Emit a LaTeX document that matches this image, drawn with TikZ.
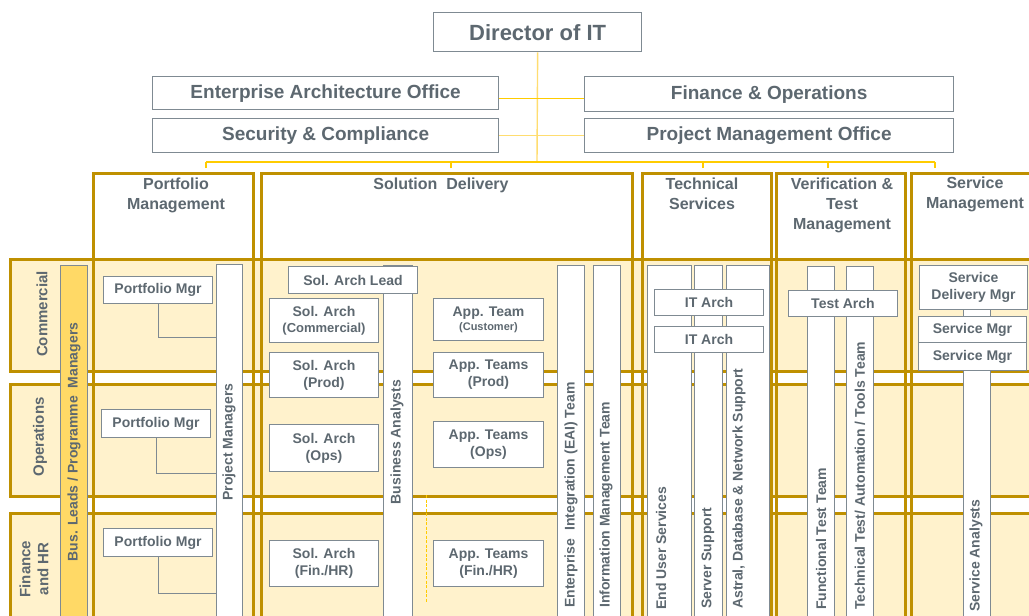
\documentclass[tikz,border=0pt]{standalone}
\usepackage{fontspec}
\setmainfont{Liberation Sans}
\usetikzlibrary{calc}
\definecolor{txt}{HTML}{5D6870}
\definecolor{gold}{HTML}{BF9000}
\definecolor{lightfill}{HTML}{FFF2CC}
\definecolor{baryel}{HTML}{FFD966}
\definecolor{bgray}{HTML}{7F8A92}
\definecolor{lnyel}{HTML}{FFCC00}
\definecolor{lnyel2}{HTML}{FFDD70}
\tikzset{
 topbox/.style={draw=bgray, line width=1.3pt, fill=white, text=txt, font=\bfseries\fontsize{19}{23}\selectfont, inner sep=0, anchor=north west},
 box/.style={draw=bgray, line width=1pt, fill=white, text=txt, font=\bfseries\fontsize{14}{17}\selectfont, inner sep=0, align=center, anchor=north west},
 bar/.style={draw=bgray, line width=1pt, fill=white, inner sep=0, anchor=north west},
 bartext/.style={rotate=90, text=txt, font=\bfseries\fontsize{14}{17}\selectfont, inner sep=0},
 column/.style={draw=gold, line width=3pt, inner sep=0, anchor=north west},
 rowband/.style={draw=gold, line width=3pt, fill=lightfill, inner sep=0, anchor=north west},
 colhead/.style={text=txt, font=\bfseries\fontsize{16}{20}\selectfont, align=center, anchor=north, inner sep=0},
 rowlabel/.style={rotate=90, text=txt, font=\bfseries\fontsize{15}{18}\selectfont, align=center, inner sep=0},
 conn/.style={draw=lnyel, line width=1.2pt},
 connlight/.style={draw=lnyel2, line width=1.4pt},
 pmconn/.style={draw=bgray, line width=0.9pt},
}
\begin{document}
\begin{tikzpicture}[x=1pt,y=-1pt]
\clip (0,0) rectangle (1029,616);
\fill[white] (0,0) rectangle (1029,616);

% ---- top management ----
\node[topbox, minimum width=208pt, minimum height=39pt, font=\bfseries\fontsize{22}{26}\selectfont] (dir) at (433,12) {Director of IT};
\node[topbox, minimum width=346pt, minimum height=33pt] (eao) at (152,76) {Enterprise Architecture Office};
\node[topbox, minimum width=346pt, minimum height=34pt] (sc) at (152,118) {Security \& Compliance};
\node[topbox, minimum width=369pt, minimum height=35pt] (fo) at (584,76) {Finance \& Operations};
\node[topbox, minimum width=369pt, minimum height=34pt] (pmo) at (584,118) {Project Management Office};

\coordinate (hub) at (537,162);
\coordinate (bl) at (206,162);
\coordinate (br) at (935,162);
\coordinate (t1) at (206,168);
\coordinate (t2) at (451,168);
\coordinate (t3) at (703,168);
\coordinate (t4) at (828,168);
\coordinate (t5) at (935,168);
\draw[connlight] (dir.south) -- (hub);
\draw[conn] ([yshift=-5.5pt]eao.east) -- ([yshift=-5.5pt]eao.east -| fo.west);
\draw[connlight] (sc.east) -- (sc.east -| pmo.west);
\draw[conn] (bl) -- (br);
\draw[conn] (t1) -- (t1 |- bl);
\draw[conn] (t2) -- (t2 |- bl);
\draw[conn] (t3) -- (t3 |- bl);
\draw[conn] (t4) -- (t4 |- bl);
\draw[conn] (t5) -- (t5 |- bl);

% ---- row bands ----
\node[rowband, minimum width=1070pt, minimum height=112pt] (rowC) at (9,258) {};
\node[rowband, minimum width=1070pt, minimum height=112pt] (rowO) at (9,383) {};
\node[rowband, minimum width=1070pt, minimum height=140pt] (rowF) at (9,512) {};

% ---- columns ----
\node[column, minimum width=160pt, minimum height=480pt] (colP) at (92,172) {};
\node[column, minimum width=371pt, minimum height=480pt] (colS) at (260,172) {};
\node[column, minimum width=129pt, minimum height=480pt] (colT) at (641,172) {};
\node[column, minimum width=129pt, minimum height=480pt] (colV) at (775,172) {};
\node[column, minimum width=170pt, minimum height=480pt] (colM) at (910,172) {};

\node[colhead] (hP) at (176,178) {Portfolio\\Management};
\node[colhead] (hS) at (441,178) {Solution\ \ Delivery};
\node[colhead] (hT) at (702,178) {Technical\\Services};
\node[colhead] (hV) at (842,178) {Verification \&\\Test\\Management};
\node[colhead] (hM) at (975,177) {Service\\Management};

% ---- row labels ----
\node[rowlabel] (lC) at (42,314) {Commercial};
\node[rowlabel] (lO) at (40,437) {Operations};
\node[rowlabel] (lF) at (34,569) {Finance\\and HR};

% ---- vertical bars ----
\node[bar, fill=baryel, minimum width=27pt, minimum height=380pt] (busbar) at (60,265) {};
\node[bar, minimum width=26pt, minimum height=380pt] (pmbar) at (216,264) {};
\node[bar, minimum width=29pt, minimum height=380pt] (babar) at (383,265) {};
\node[bar, minimum width=27pt, minimum height=380pt] (eaibar) at (557,265) {};
\node[bar, minimum width=27pt, minimum height=380pt] (imbar) at (593,265) {};
\node[bar, minimum width=44pt, minimum height=380pt] (eubar) at (647,265) {};
\node[bar, minimum width=28pt, minimum height=380pt] (ssbar) at (694,265) {};
\node[bar, minimum width=43pt, minimum height=380pt] (adbar) at (726,265) {};
\node[bar, minimum width=27pt, minimum height=380pt] (ftbar) at (807,266) {};
\node[bar, minimum width=27pt, minimum height=380pt] (ttbar) at (846,266) {};
\node[bar, minimum width=27pt, minimum height=350pt] (sabar) at (963,300) {};

\node[bartext] (busT) at (74,442) {Bus. Leads / Programme\ \ Managers};
\node[bartext] (pmT) at (229,442) {Project Managers};
\node[bartext] (baT) at (397,442) {Business Analysts};
\node[bartext, anchor=west] (eaiT) at (571,608) {Enterprise\ \ Integration (EAI) Team};
\node[bartext, anchor=west] (imT) at (606,608) {Information Management Team};
\node[bartext, anchor=west] (euT) at (661,610) {End User Services};
\node[bartext, anchor=west] (ssT) at (708,609) {Server Support};
\node[bartext, anchor=west] (adT) at (739,609) {Astral, Database \& Network Support};
\node[bartext, anchor=west] (ftT) at (821,610) {Functional Test Team};
\node[bartext, anchor=west] (ttT) at (860,610) {Technical Test/ Automation / Tools Team};
\node[bartext, anchor=west] (saT) at (976,612) {Service Analysts};

% ---- portfolio managers ----
\node[box, minimum width=109pt, minimum height=27pt] (pm1) at (103,276) {Portfolio Mgr};
\node[box, minimum width=109pt, minimum height=28pt] (pm2) at (101,409) {Portfolio Mgr};
\node[box, minimum width=109pt, minimum height=28pt] (pm3) at (103,528) {Portfolio Mgr};
\coordinate (k1) at (157,337);
\coordinate (k2) at (155,473);
\coordinate (k3) at (157,593);
\draw[pmconn] (pm1.south) |- (pmbar.west |- k1);
\draw[pmconn] (pm2.south) |- (pmbar.west |- k2);
\draw[pmconn] (pm3.south) |- (pmbar.west |- k3);

% ---- solution delivery ----
\node[box, minimum width=129pt, minimum height=27pt] (sal) at (288,266) {Sol. Arch Lead};
\node[box, minimum width=109pt, minimum height=44pt] (sac) at (269,298) {Sol. Arch\\[-1pt]{\fontsize{13}{15}\selectfont (Commercial)}};
\node[box, minimum width=109pt, minimum height=45pt] (sap) at (269,352) {Sol. Arch\\(Prod)};
\node[box, minimum width=109pt, minimum height=47pt] (sao) at (269,424) {Sol. Arch\\(Ops)};
\node[box, minimum width=109pt, minimum height=46pt] (saf) at (269,540) {Sol. Arch\\(Fin./HR)};
\node[box, minimum width=110pt, minimum height=42pt] (atc) at (433,298) {App. Team\\[-3pt]{\fontsize{11}{13}\selectfont (Customer)}};
\node[box, minimum width=110pt, minimum height=45pt] (atp) at (433,352) {App. Teams\\(Prod)};
\node[box, minimum width=110pt, minimum height=46pt] (ato) at (433,421) {App. Teams\\(Ops)};
\node[box, minimum width=110pt, minimum height=46pt] (atf) at (433,540) {App. Teams\\(Fin./HR)};
\coordinate (d1) at (426,495);
\coordinate (d2) at (426,602);
\draw[draw=lnyel, line width=1pt, dashed, dash pattern=on 3pt off 1.5pt] (d1) -- (d2);

% ---- technical services ----
\node[box, minimum width=109pt, minimum height=26pt] (ita1) at (654,289) {IT Arch};
\node[box, minimum width=109pt, minimum height=26pt] (ita2) at (654,326) {IT Arch};

% ---- verification ----
\node[box, minimum width=109pt, minimum height=26pt] (ta) at (788,290) {Test Arch};

% ---- service management ----
\node[box, minimum width=108pt, minimum height=44pt] (sdm) at (919,265) {Service\\Delivery Mgr};
\node[box, minimum width=108pt, minimum height=26pt] (sm1) at (918,316) {Service Mgr};
\node[box, minimum width=108pt, minimum height=28pt] (sm2) at (918,342) {Service Mgr};
\end{tikzpicture}
\end{document}
